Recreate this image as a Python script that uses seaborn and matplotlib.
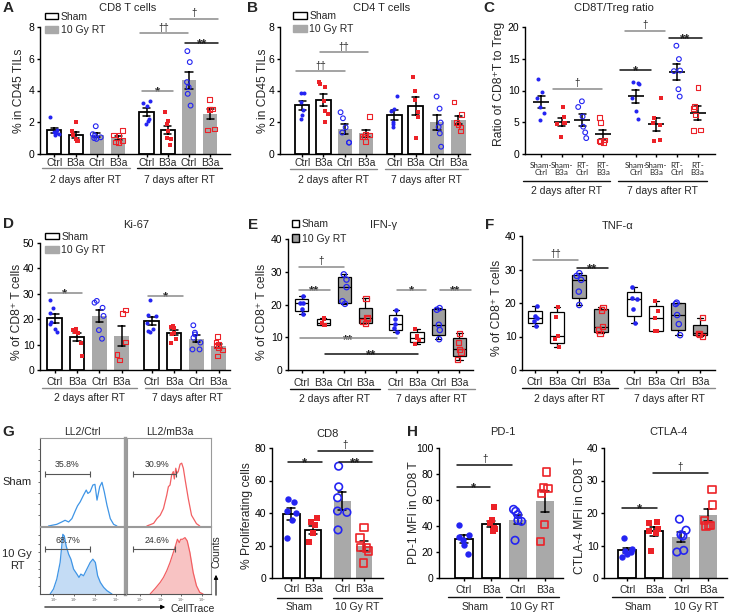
import numpy as np
import pandas as pd
import matplotlib
matplotlib.use("Agg")
import matplotlib.pyplot as plt
import seaborn as sns
from matplotlib.patches import Patch, FancyArrowPatch
from matplotlib.transforms import blended_transform_factory

np.random.seed(7)

# ---------------- data ----------------
# group order: 2 d (Sham-Ctrl, Sham-B3a, RT-Ctrl, RT-B3a), 7 d (Sham-Ctrl, Sham-B3a, RT-Ctrl, RT-B3a)
tick_labels = ["Ctrl", "B3a", "Ctrl", "B3a", "Ctrl", "B3a", "Ctrl", "B3a"]
c_tick_labels = ["Sham-\nCtrl", "Sham-\nB3a", "RT-\nCtrl", "RT-\nB3a"] * 2
day_groups = ["2 days after RT", "7 days after RT"]
rt_groups = ["Sham", "10 Gy RT"]
tick4 = ["Ctrl", "B3a", "Ctrl", "B3a"]

cd8_tils = [
    [2.3, 1.5, 1.4, 1.3, 1.25, 1.2],
    [2.0, 1.45, 1.2, 0.95, 0.85, 0.85],
    [1.75, 1.25, 1.15, 1.05, 1.0, 0.95],
    [1.5, 1.2, 1.15, 0.85, 0.75, 0.72],
    [3.37, 3.2, 3.05, 2.2, 2.1, 1.9],
    [2.63, 2.05, 1.9, 1.45, 1.0, 0.95, 0.55],
    [6.48, 5.79, 4.53, 4.21, 3.79, 3.05],
    [3.43, 2.84, 2.84, 2.8, 1.58, 1.52],
]
cd4_tils = [
    [3.87, 3.85, 3.3, 2.8, 2.45, 2.2],
    [4.55, 4.4, 4.2, 3.35, 2.7, 2.5, 2.0],
    [2.63, 2.25, 1.68, 1.35, 0.72, 0.72],
    [2.34, 1.26, 1.2, 1.1, 1.1, 0.78],
    [3.68, 2.82, 2.74, 2.0, 1.9, 1.7],
    [4.84, 3.94, 3.4, 2.67, 2.3, 0.99],
    [3.62, 2.86, 1.98, 1.7, 1.3, 0.46],
    [3.28, 2.5, 2.0, 1.85, 1.7, 1.45],
]
cd8_treg = [
    [11.8, 9.7, 8.8, 7.4, 6.4, 5.4],
    [7.4, 5.9, 4.95, 4.85, 4.7, 2.7],
    [8.3, 7.4, 5.9, 4.3, 3.4, 2.5],
    [5.8, 4.95, 2.2, 2.05, 1.95, 1.8],
    [11.3, 11.2, 11.1, 8.8, 6.7, 5.5],
    [8.8, 5.6, 4.95, 4.6, 2.2, 2.1],
    [17.05, 14.95, 13.15, 13.05, 10.2, 9.05],
    [10.5, 7.45, 7.2, 6.15, 3.8, 3.65],
]
ki67 = [
    [27.6, 24.5, 22.3, 19.0, 18.2, 16.3, 15.0],
    [16.2, 15.8, 14.8, 14.5, 10.8, 5.5],
    [27.2, 26.5, 24.5, 21.3, 15.7, 12.3],
    [23.6, 22.3, 11.0, 6.2, 3.9],
    [27.6, 21.7, 21.3, 18.4, 16.0, 15.4, 15.0],
    [17.3, 16.9, 16.7, 14.4, 14.0, 12.3, 10.8],
    [17.6, 14.7, 14.0, 12.7, 10.8, 8.1, 8.1],
    [13.1, 11.0, 10.1, 9.7, 8.8, 7.9, 5.5],
]
ifng = [
    [17.2, 18.6, 20.4, 20.6, 22.6],
    [13.6, 13.8, 14.4, 15.5, 15.9],
    [20.2, 21.0, 25.3, 27.6, 29.2],
    [14.3, 14.7, 15.8, 16.1, 21.9],
    [11.6, 12.8, 14.1, 15.6, 18.2],
    [8.0, 9.2, 9.8, 10.4, 12.6],
    [9.4, 12.2, 13.8, 18.4, 18.9],
    [3.1, 5.5, 6.3, 8.3, 11.2],
]
tnfa = [
    [13.2, 14.6, 15.5, 16.0, 19.2],
    [7.0, 9.2, 10.1, 15.9, 18.7],
    [19.4, 23.4, 26.9, 28.1, 28.9],
    [10.9, 11.9, 12.9, 17.9, 18.7],
    [14.1, 18.1, 21.1, 21.4, 24.9],
    [11.7, 11.7, 15.4, 17.7, 20.6],
    [10.4, 13.7, 16.4, 19.7, 20.1],
    [10.1, 10.5, 10.9, 11.0, 15.6],
]
# G / H : Sham-Ctrl, Sham-B3a, RT-Ctrl, RT-B3a
prolif = [
    [48.6, 46.5, 41.5, 40.2, 35.7, 24.5],
    [36.7, 34.7, 32.7, 27.6, 22.4, 22.0],
    [68.8, 56.1, 49.4, 41.2, 40.4, 29.6],
    [31.0, 24.5, 18.8, 18.4, 16.7, 9.2],
]
pd1_mfi = [
    [40.5, 33.3, 31.5, 29.0, 25.6, 18.7],
    [54.6, 44.5, 42.0, 38.5, 37.9, 37.4, 36.5],
    [52.8, 51.3, 48.7, 44.4, 43.6, 29.0],
    [81.5, 69.2, 68.7, 64.9, 41.0, 28.2],
]
ctla4_mfi = [
    [12.3, 8.8, 8.3, 8.0, 7.5, 6.5],
    [17.2, 17.0, 15.2, 14.4, 13.9, 8.2],
    [18.1, 14.7, 13.3, 12.9, 8.5, 8.0],
    [27.2, 22.4, 17.7, 16.2, 16.0, 16.2],
]
# flow histograms (x: log10 CellTrace, y: counts)
flow_sham_ctrl_x = [-0.24, 0.16, 0.40, 0.56, 0.73, 0.89, 1.05, 1.16, 1.29, 1.45, 1.58, 1.66, 1.77,
                    1.90, 2.00, 2.10, 2.23, 2.34, 2.45, 2.58, 2.74, 2.90, 3.06]
flow_sham_ctrl_y = [0, 5, 12, 17, 12, 22, 45, 60, 72, 92, 107, 97, 102, 122, 124, 77, 117, 130,
                    102, 62, 22, 5, 0]
flow_sham_b3a_x = [0.32, 0.65, 0.81, 0.97, 1.13, 1.29, 1.37, 1.45, 1.53, 1.61, 1.66, 1.73, 1.79,
                   1.85, 1.94, 2.02, 2.10, 2.19, 2.34, 2.50, 2.74, 2.90]
flow_sham_b3a_y = [0, 8, 22, 32, 52, 92, 117, 122, 152, 162, 140, 172, 157, 162, 184, 187, 172,
                   137, 82, 32, 7, 0]
flow_rt_ctrl_x = [-0.16, 0.0, 0.16, 0.32, 0.40, 0.45, 0.52, 0.61, 0.73, 0.84, 0.97, 1.13, 1.23,
                  1.32, 1.45, 1.61, 1.77, 1.90, 2.02, 2.13, 2.26, 2.42, 2.58, 2.82]
flow_rt_ctrl_y = [0, 15, 45, 95, 145, 180, 175, 145, 120, 105, 75, 60, 50, 60, 55, 75, 95, 105,
                  95, 55, 35, 20, 10, 0]
flow_rt_b3a_x = [0.48, 0.73, 0.97, 1.13, 1.29, 1.45, 1.61, 1.74, 1.81, 1.90, 1.97, 2.06, 2.18,
                 2.29, 2.42, 2.58, 2.74, 2.90, 3.06]
flow_rt_b3a_y = [0, 17, 35, 50, 70, 95, 125, 150, 165, 155, 165, 165, 170, 160, 125, 65, 25, 5, 0]
gate_pct = ["35.8%", "30.9%", "68.7%", "24.6%"]

# ---------------- setup ----------------
W, H = 732, 614
sns.set_theme(style="ticks")
plt.rcParams["font.family"] = ["Liberation Sans", "DejaVu Sans"]
plt.rcParams["axes.linewidth"] = 1.0

fig = plt.figure(figsize=(W / 100, H / 100), dpi=100)
fig.patch.set_facecolor("white")

BLUE = "#2424f2"
RED = "#ec2228"
BAR_GREY = "#a9a9a9"
BOX_GREY = "#a0a0a0"
LGREY = "#8a8a8a"
BLACK = "#111111"


def fy(py):
    return 1 - py / H


def add_ax(l, t, r, b):
    return fig.add_axes([l / W, 1 - b / H, (r - l) / W, (b - t) / H])


def ftext(x, y, s, **kw):
    kw.setdefault("ha", "center")
    kw.setdefault("va", "center")
    fig.text(x / W, fy(y), s, **kw)


STYLES = [("o", BLUE, True), ("s", RED, True), ("o", BLUE, False), ("s", RED, False)]


def draw_points(ax, x, vals, k, size_f, size_o, lw, jitter):
    m, c, filled = STYLES[k % 4]
    df = pd.DataFrame({"x": np.full(len(vals), float(x)), "y": vals})
    if filled:
        sns.stripplot(data=df, x="x", y="y", orient="x", native_scale=True, jitter=jitter,
                      marker=m, color=c, size=size_f, linewidth=0, ax=ax, zorder=4)
    else:
        sns.stripplot(data=df, x="x", y="y", orient="x", native_scale=True, jitter=jitter,
                      marker=m, color=c, facecolors="none", edgecolor=c, linewidth=lw,
                      size=size_o, ax=ax, zorder=4)


def bar_panel(ax, vals, pos, width, size_f, size_o, lw, jitter, capsize):
    rows = [(p, v, i % 4 < 2) for i, (p, vs) in enumerate(zip(pos, vals)) for v in vs]
    df = pd.DataFrame(rows, columns=["x", "y", "sham"])
    kw = dict(x="x", y="y", orient="x", native_scale=True, errorbar="se", capsize=capsize,
              width=width, saturation=1, err_kws={"color": "black", "linewidth": 1.1}, ax=ax)
    sns.barplot(data=df[df.sham], color="white", edgecolor="black", linewidth=1.3, **kw)
    sns.barplot(data=df[~df.sham], color=BAR_GREY, edgecolor=BAR_GREY, linewidth=0, **kw)
    for i, (p, vs) in enumerate(zip(pos, vals)):
        draw_points(ax, p, vs, i, size_f, size_o, lw, jitter)


def box_panel(ax, vals, pos, width, size_f, size_o, lw, jitter):
    stats = []
    for v in vals:
        v = np.asarray(v, dtype=float)
        q1, med, q3 = np.percentile(v, [25, 50, 75], method="weibull")
        stats.append(dict(med=med, q1=q1, q3=q3, whislo=v.min(), whishi=v.max(), fliers=[]))
    lp = dict(color="black", linewidth=0.9)
    bp = ax.bxp(stats, positions=pos, widths=width, patch_artist=True, showfliers=False,
                capwidths=width * 0.5, boxprops=dict(edgecolor="black", linewidth=0.9),
                medianprops=lp, whiskerprops=lp, capprops=lp, manage_ticks=False)
    for i, b in enumerate(bp["boxes"]):
        b.set_facecolor("white" if i % 4 < 2 else BOX_GREY)
    for i, (p, vs) in enumerate(zip(pos, vals)):
        draw_points(ax, p, vs, i, size_f, size_o, lw, jitter)


def dot_panel(ax, vals, pos, size_f, size_o, lw, jitter):
    for i, (p, vs) in enumerate(zip(pos, vals)):
        draw_points(ax, p, vs, i, size_f, size_o, lw, jitter)
        df = pd.DataFrame({"x": np.full(len(vs), float(p)), "y": vs})
        sns.pointplot(data=df, x="x", y="y", orient="x", native_scale=True, errorbar="se",
                      capsize=0.34, color="black", marker="_", markersize=12,
                      markeredgewidth=1.2, linestyle="none", err_kws={"linewidth": 1.1}, ax=ax)


def style(ax, xlim, ylim, yticks, pos, labels, lab_y, fs=7.5, family=None):
    ax.set_xlim(*xlim)
    ax.set_ylim(*ylim)
    ax.set_yticks(yticks)
    ax.set_yticklabels([f"{t:g}" for t in yticks], fontsize=7.5)
    ax.set_xticks(pos)
    ax.set_xticklabels([])
    ax.tick_params(length=2.5, width=1.0, colors="black", pad=1.5)
    sns.despine(ax=ax)
    for s in ("left", "bottom"):
        ax.spines[s].set_color("black")
        ax.spines[s].set_linewidth(1.0)
    ax.set_xlabel("")
    ax.set_ylabel("")
    ax.set_facecolor("none")
    tr = blended_transform_factory(ax.transData, fig.transFigure)
    extra = {} if family is None else {"family": family}
    for p, l in zip(pos, labels):
        ax.text(p, fy(lab_y), l, transform=tr, ha="center", va="center", fontsize=fs,
                linespacing=1.0, **extra)


def groups(ax, spans, line_y, text_y, labels, colors):
    tr = blended_transform_factory(ax.transData, fig.transFigure)
    for (x0, x1), lab, c in zip(spans, labels, colors):
        ax.plot([x0, x1], [fy(line_y)] * 2, transform=tr, color=c, lw=1.0, clip_on=False)
        ax.text((x0 + x1) / 2, fy(text_y), lab, transform=tr, ha="center", va="center",
                fontsize=7.5)


def sig(ax, items):
    for x0, x1, y, s, c in items:
        ax.plot([x0, x1], [y, y], color=c, lw=1.1, clip_on=False, zorder=5)
        if "*" in s:
            ax.annotate(s, ((x0 + x1) / 2, y), xytext=(0, -3.2), textcoords="offset points",
                        ha="center", va="baseline", fontsize=9.5, fontweight="bold",
                        annotation_clip=False)
        else:
            ax.annotate(s, ((x0 + x1) / 2, y), xytext=(0, 0.6), textcoords="offset points",
                        ha="center", va="bottom", fontsize=7, annotation_clip=False)


def legend(ax, x, y, rt_color, rt_edge, hl, hh, ls):
    handles = [Patch(facecolor="white", edgecolor="black", linewidth=1.0, label="Sham"),
               Patch(facecolor=rt_color, edgecolor=rt_edge, linewidth=1.0, label="10 Gy RT")]
    ax.legend(handles=handles, loc="upper left", bbox_to_anchor=(x / W, fy(y)),
              bbox_transform=fig.transFigure, frameon=False, fontsize=7.5, handlelength=hl,
              handleheight=hh, handletextpad=0.25, labelspacing=ls, borderpad=0,
              borderaxespad=0)


# ---------------- Panel A ----------------
posA = [0, 1, 2, 3, 4.33, 5.33, 6.33, 7.33]
axA = add_ax(40, 27, 230, 154)
bar_panel(axA, cd8_tils, posA, 0.66, 2.9, 3.4, 0.8, 0.22, 0.34)
style(axA, (-0.67, 8.25), (0, 8), [0, 2, 4, 6, 8], posA, tick_labels, 163.5)
groups(axA, [(-0.58, 3.55), (3.88, 7.87)], 168, 180, day_groups, [LGREY, BLACK])
sig(axA, [(4.02, 6.28, 7.6, "††", LGREY), (5.43, 7.69, 8.5, "†", LGREY),
          (6.14, 7.69, 7.0, "**", BLACK), (4.12, 5.57, 3.97, "*", LGREY)])
legend(axA, 45, 12, BAR_GREY, BAR_GREY, 1.25, 0.55, 0.3)

# ---------------- Panel B ----------------
axB = add_ax(280, 27, 470, 154)
bar_panel(axB, cd4_tils, posA, 0.68, 2.9, 3.4, 0.8, 0.22, 0.34)
style(axB, (-1.04, 7.88), (0, 8), [0, 2, 4, 6, 8], posA, tick_labels, 163.5)
groups(axB, [(-0.57, 3.51), (3.88, 7.78)], 169, 180, day_groups, [LGREY, LGREY])
sig(axB, [(-0.29, 2.01, 5.2, "††", LGREY), (0.84, 3.09, 6.4, "††", LGREY)])
legend(axB, 293, 11, BAR_GREY, BAR_GREY, 1.3, 0.6, 0.3)

# ---------------- Panel C ----------------
posC = [0, 1, 2, 3, 4.6, 5.6, 6.6, 7.6]
axC = add_ax(525, 27, 715, 154)
dot_panel(axC, cd8_treg, posC, 2.9, 3.4, 0.8, 0.22)
style(axC, (-0.78, 8.45), (0, 20), [0, 5, 10, 15, 20], posC, c_tick_labels, 169, fs=5.8,
      family=["Lato", "Liberation Sans"])
groups(axC, [(-0.87, 3.35), (3.74, 8.06)], 180.5, 191, day_groups, [BLACK, BLACK])
sig(axC, [(0.58, 2.96, 10.2, "†", LGREY), (3.83, 5.34, 13.2, "*", BLACK),
          (4.08, 6.02, 19.4, "†", LGREY), (6.21, 7.82, 18.3, "**", BLACK)])

# ---------------- Panel D ----------------
posD = [0, 1, 2, 3, 4.35, 5.35, 6.35, 7.35]
axD = add_ax(40, 243, 230, 370)
bar_panel(axD, ki67, posD, 0.66, 2.9, 3.4, 0.8, 0.22, 0.34)
style(axD, (-0.66, 7.86), (0, 50), [0, 10, 20, 30, 40, 50], posD, tick_labels, 382)
groups(axD, [(-0.57, 3.69), (4.05, 7.86)], 388, 398, day_groups, [LGREY, LGREY])
sig(axD, [(-0.3, 1.22, 30.3, "*", LGREY), (4.18, 5.75, 29.1, "*", LGREY)])
legend(axD, 45, 232, BAR_GREY, BAR_GREY, 1.3, 0.55, 0.3)

# ---------------- Panel E ----------------
posE = [0, 1, 2, 3, 4.45, 5.45, 6.45, 7.45]
axE = add_ax(288, 239, 473, 370)
box_panel(axE, ifng, posE, 0.62, 3.3, 3.8, 0.9, 0.12)
style(axE, (-0.66, 8.1), (0, 40), [0, 10, 20, 30, 40], posE, tick_labels, 383)
groups(axE, [(-0.57, 3.7), (4.08, 8.2)], 389, 399, day_groups, [BLACK, LGREY])
sig(axE, [(-0.14, 1.99, 31.4, "†", LGREY), (-0.14, 1.33, 24.4, "**", LGREY),
          (4.5, 5.88, 24.4, "*", LGREY), (6.54, 8.0, 24.4, "**", LGREY),
          (-0.09, 4.5, 9.7, "**", LGREY), (1.09, 5.5, 4.9, "**", BLACK)])
legend(axE, 292, 219, BOX_GREY, "black", 0.7, 0.7, 0.45)

# ---------------- Panel F ----------------
posF = [0, 1, 2, 3, 4.5, 5.5, 6.5, 7.5]
axF = add_ax(522, 236, 715, 370)
box_panel(axF, tnfa, posF, 0.62, 3.3, 3.8, 0.9, 0.12)
style(axF, (-0.59, 8.18), (0, 40), [0, 10, 20, 30, 40], posF, tick_labels, 382)
groups(axF, [(-0.59, 3.77), (4.05, 8.18)], 388, 399, day_groups, [BLACK, LGREY])
sig(axF, [(-0.09, 1.95, 32.8, "††", LGREY), (1.91, 3.32, 30.4, "**", BLACK)])

# ---------------- Panel G : flow histograms ----------------
fx = (-0.65, 3.45)
flow_axes = [add_ax(40, 438, 125, 526), add_ax(127, 438, 211, 526),
             add_ax(40, 527, 125, 594), add_ax(127, 527, 211, 594)]
flow_data = [(flow_sham_ctrl_x, flow_sham_ctrl_y, "#3f95e6", None, 262),
             (flow_sham_b3a_x, flow_sham_b3a_y, "#f25f62", None, 262),
             (flow_rt_ctrl_x, flow_rt_ctrl_y, "#3f95e6", "#c4dcf5", 202),
             (flow_rt_b3a_x, flow_rt_b3a_y, "#f25f62", "#f8c3c3", 202)]
gates = [(-0.40, 1.74, 155, 0.65), (-0.35, 1.74, 155, 0.81),
         (-0.40, 1.74, 137, 0.69), (-0.35, 1.69, 137, 0.81)]
for k, (ax, (xs, ys, lc, fc, ymax), (g0, g1, gy, tx)) in enumerate(zip(flow_axes, flow_data, gates)):
    if fc is not None:
        ax.fill_between(xs, ys, color=fc, lw=0)
    sns.lineplot(x=xs, y=ys, color=lc, lw=0.9, estimator=None, sort=False, ax=ax)
    ax.set_xlim(*fx)
    ax.set_ylim(0, ymax)
    ax.plot([g0, g1], [gy, gy], color="#555555", lw=0.8, marker="|", markersize=5,
            markeredgewidth=0.8)
    ax.text(tx, gy + 0.06 * ymax, gate_pct[k], ha="center", va="bottom", fontsize=6.3,
            color="#333333")
    for s in ax.spines.values():
        s.set_color("#9a9a9a")
        s.set_linewidth(0.8)
    ax.set_facecolor("white")
    ax.set_xlabel("")
    ax.set_ylabel("")
    if k in (0, 2):
        ax.set_yticks(np.linspace(0, ymax, 9)[1:-1])
        ax.spines["right"].set_linewidth(2.4)
        ax.spines["right"].set_color("#9d9d9d")
        ax.spines["left"].set_color("#555555")
    else:
        ax.set_yticks([])
    ax.set_yticklabels([])
    if k >= 2:
        ax.set_xticks([0, 1, 2, 3])
        ax.set_xticklabels(["$10^0$", "$10^1$", "$10^2$", "$10^3$"], fontsize=2.5,
                           color="#666666")
        ax.spines["bottom"].set_color("#555555")
    else:
        ax.set_xticks([])
    ax.tick_params(length=1.6, width=0.6, colors="#555555", pad=0.5)

ftext(82, 432, "LL2/Ctrl", fontsize=7.5)
ftext(170, 432, "LL2/mB3a", fontsize=7.5)
ftext(17, 482, "Sham", fontsize=8)
ftext(17, 560, "10 Gy\nRT", fontsize=8, linespacing=1.25)
ftext(193, 608.5, "CellTrace", fontsize=7.5)
ftext(216, 552, "Counts", fontsize=7.5, rotation=90)
fig.add_artist(FancyArrowPatch((42 / W, fy(607)), (168 / W, fy(607)), transform=fig.transFigure,
                               arrowstyle="-|>", mutation_scale=6, lw=0.8, color="black"))
fig.add_artist(FancyArrowPatch((216 / W, fy(598)), (216 / W, fy(572)), transform=fig.transFigure,
                               arrowstyle="-|>", mutation_scale=6, lw=0.8, color="black"))

# ---------------- Panel G : CD8 proliferation ----------------
posG = [0, 1, 2.35, 3.35]
axG = add_ax(272, 448, 383, 578)
bar_panel(axG, prolif, posG, 0.77, 4.6, 5.4, 1.2, 0.24, 0.36)
style(axG, (-0.89, 4.23), (0, 80), [0, 20, 40, 60, 80], posG, tick4, 589.5)
groups(axG, [(-0.66, 1.41), (1.92, 4.18)], 598, 607.5, rt_groups, [BLACK, BLACK])
sig(axG, [(-0.15, 1.41, 71.4, "*", BLACK), (1.23, 3.76, 78.1, "†", BLACK),
          (2.2, 3.72, 71.4, "**", BLACK)])

# ---------------- Panel H ----------------
posH = [0, 1, 2, 3]
axH1 = add_ax(439, 448, 563, 578)
bar_panel(axH1, pd1_mfi, posH, 0.65, 4.6, 5.4, 1.2, 0.2, 0.3)
style(axH1, (-0.92, 3.67), (0, 100), [0, 20, 40, 60, 80, 100], posH, tick4, 590)
groups(axH1, [(-0.59, 1.42), (1.56, 3.53)], 597, 606.5, rt_groups, [BLACK, BLACK])
sig(axH1, [(-0.25, 1.79, 86.9, "†", BLACK), (-0.25, 0.97, 70, "*", BLACK)])

axH2 = add_ax(604, 448, 727, 578)
bar_panel(axH2, ctla4_mfi, posH, 0.65, 4.6, 5.4, 1.2, 0.2, 0.3)
style(axH2, (-0.86, 3.7), (0, 40), [0, 10, 20, 30, 40], posH, tick4, 590)
groups(axH2, [(-0.57, 1.4), (1.55, 3.55)], 597, 606.5, rt_groups, [BLACK, BLACK])
sig(axH2, [(-0.19, 1.1, 21.5, "*", BLACK), (0.96, 2.99, 32.3, "†", BLACK)])

# ---------------- titles, y labels, panel letters ----------------
for x, y, s in [(128, 8, "CD8 T cells"), (382, 8, "CD4 T cells"), (614, 8, "CD8T/Treg ratio"),
                (136, 225, "Ki-67"), (384, 225, "IFN-γ"), (618, 226, "TNF-α"),
                (328, 434, "CD8"), (503, 432, "PD-1"), (668, 432, "CTLA-4")]:
    ftext(x, y, s, fontsize=8)

for x, y, s in [(19, 91, "% in CD45 TILs"), (263, 91, "% in CD45 TILs"),
                (499, 84, "Ratio of CD8⁺T to Treg"), (17, 312, "% of CD8⁺ T cells"),
                (262, 312, "% of CD8⁺ T cells"), (497, 308, "% of CD8⁺ T cells"),
                (247, 516, "% Proliferating cells"), (414, 513, "PD-1 MFI in CD8 T"),
                (580, 516, "CTLA-4 MFI in CD8 T")]:
    ftext(x, y, s, fontsize=8.7, rotation=90)

for x, y, s in [(8, 8, "A"), (252, 8, "B"), (489, 8, "C"), (8, 224, "D"), (253, 225, "E"),
                (490, 225, "F"), (8, 432, "G"), (413, 432, "H")]:
    ftext(x, y, s, fontsize=11, fontweight="bold")

fig.savefig("out.png", dpi=100)
